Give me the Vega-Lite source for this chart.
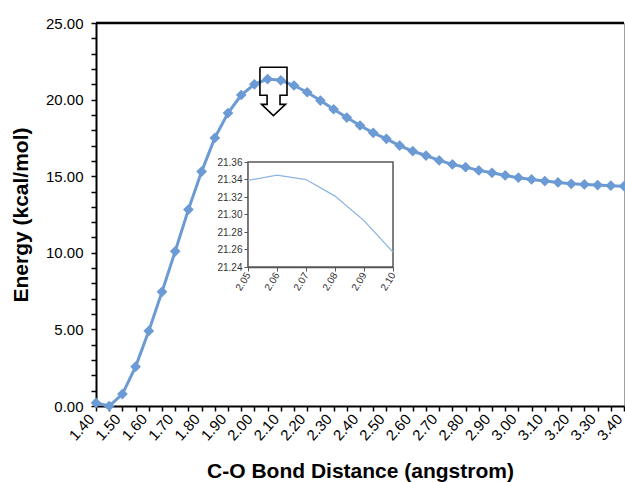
{
  "$schema": "https://vega.github.io/schema/vega-lite/v6.json",
  "width": 528,
  "height": 383,
  "autosize": {"type": "none"},
  "padding": {"left": 96, "top": 23, "right": 1, "bottom": 76},
  "background": "white",
  "config": {
    "view": {"stroke": "#a0a0a0", "strokeWidth": 1},
    "font": "Liberation Sans",
    "axis": {"labelFont": "Liberation Sans", "titleFont": "Liberation Sans", "grid": false}
  },
  "datasets": {
    "main": [
      {"distance": 1.40, "energy": 0.2},
      {"distance": 1.45, "energy": 0.0},
      {"distance": 1.50, "energy": 0.78},
      {"distance": 1.55, "energy": 2.57},
      {"distance": 1.60, "energy": 4.9},
      {"distance": 1.65, "energy": 7.45},
      {"distance": 1.70, "energy": 10.1},
      {"distance": 1.75, "energy": 12.82},
      {"distance": 1.80, "energy": 15.3},
      {"distance": 1.85, "energy": 17.5},
      {"distance": 1.90, "energy": 19.12},
      {"distance": 1.95, "energy": 20.3},
      {"distance": 2.00, "energy": 21.0},
      {"distance": 2.05, "energy": 21.34},
      {"distance": 2.10, "energy": 21.26},
      {"distance": 2.15, "energy": 20.92},
      {"distance": 2.20, "energy": 20.48},
      {"distance": 2.25, "energy": 19.94},
      {"distance": 2.30, "energy": 19.37},
      {"distance": 2.35, "energy": 18.83},
      {"distance": 2.40, "energy": 18.31},
      {"distance": 2.45, "energy": 17.83},
      {"distance": 2.50, "energy": 17.44},
      {"distance": 2.55, "energy": 17.0},
      {"distance": 2.60, "energy": 16.63},
      {"distance": 2.65, "energy": 16.35},
      {"distance": 2.70, "energy": 16.03},
      {"distance": 2.75, "energy": 15.77},
      {"distance": 2.80, "energy": 15.59},
      {"distance": 2.85, "energy": 15.38},
      {"distance": 2.90, "energy": 15.22},
      {"distance": 2.95, "energy": 15.05},
      {"distance": 3.00, "energy": 14.9},
      {"distance": 3.05, "energy": 14.79},
      {"distance": 3.10, "energy": 14.68},
      {"distance": 3.15, "energy": 14.59},
      {"distance": 3.20, "energy": 14.5},
      {"distance": 3.25, "energy": 14.46},
      {"distance": 3.30, "energy": 14.42},
      {"distance": 3.35, "energy": 14.38},
      {"distance": 3.40, "energy": 14.35}
    ],
    "inset": [
      {"distance": 2.05, "energy": 21.339},
      {"distance": 2.06, "energy": 21.345},
      {"distance": 2.07, "energy": 21.340},
      {"distance": 2.08, "energy": 21.321},
      {"distance": 2.09, "energy": 21.293},
      {"distance": 2.10, "energy": 21.257}
    ],
    "arrow": [
      {"i": 0, "x": 2.021, "y": 22.11},
      {"i": 1, "x": 2.1235, "y": 22.11},
      {"i": 2, "x": 2.1235, "y": 20.28},
      {"i": 3, "x": 2.097, "y": 20.28},
      {"i": 4, "x": 2.097, "y": 19.69},
      {"i": 5, "x": 2.118, "y": 19.69},
      {"i": 6, "x": 2.072, "y": 18.95},
      {"i": 7, "x": 2.027, "y": 19.69},
      {"i": 8, "x": 2.048, "y": 19.69},
      {"i": 9, "x": 2.048, "y": 20.28},
      {"i": 10, "x": 2.021, "y": 20.28},
      {"i": 11, "x": 2.021, "y": 22.11}
    ]
  },
  "layer": [
    {
      "encoding": {
        "x": {
          "type": "quantitative",
          "scale": {"domain": [1.4, 3.4], "nice": false, "zero": false},
          "axis": {
            "orient": "bottom",
            "values": [1.40, 1.45, 1.50, 1.55, 1.60, 1.65, 1.70, 1.75, 1.80, 1.85, 1.90, 1.95, 2.00, 2.05, 2.10, 2.15, 2.20, 2.25, 2.30, 2.35, 2.40, 2.45, 2.50, 2.55, 2.60, 2.65, 2.70, 2.75, 2.80, 2.85, 2.90, 2.95, 3.00, 3.05, 3.10, 3.15, 3.20, 3.25, 3.30, 3.35, 3.40],
            "labelExpr": "round(datum.value*100) % 10 == 0 ? format(datum.value, '.2f') : ''",
            "labelAngle": -48,
            "labelFontSize": 15,
            "labelColor": "black",
            "labelOverlap": false,
            "labelFlush": false,
            "labelPadding": 5,
            "labelOffset": -5,
            "domainColor": "black",
            "domainWidth": 2,
            "tickColor": "black",
            "tickWidth": 1.5,
            "tickSize": 5,
            "title": "C-O Bond Distance (angstrom)",
            "titleFontSize": 21,
            "titleFontWeight": "bold",
            "titleColor": "black",
            "titlePadding": 17
          }
        },
        "y": {
          "type": "quantitative",
          "scale": {"domain": [0, 25], "nice": false, "zero": false},
          "axis": {
            "orient": "left",
            "values": [0, 1, 2, 3, 4, 5, 6, 7, 8, 9, 10, 11, 12, 13, 14, 15, 16, 17, 18, 19, 20, 21, 22, 23, 24, 25],
            "labelExpr": "datum.value % 5 == 0 ? format(datum.value, '.2f') : ''",
            "labelFontSize": 15,
            "labelColor": "black",
            "labelOverlap": false,
            "labelFlush": false,
            "labelPadding": 8,
            "domainColor": "black",
            "domainWidth": 2,
            "tickColor": "black",
            "tickWidth": 1.5,
            "tickSize": 5,
            "title": "Energy (kcal/mol)",
            "titleFontSize": 21,
            "titleFontWeight": "bold",
            "titleColor": "black",
            "titlePadding": 14
          }
        }
      },
      "layer": [
        {
          "data": {"name": "main"},
          "mark": {"type": "line", "color": "#6b9ad4", "strokeWidth": 3},
          "encoding": {
            "x": {"field": "distance", "type": "quantitative"},
            "y": {"field": "energy", "type": "quantitative"}
          }
        },
        {
          "data": {"name": "main"},
          "mark": {"type": "point", "shape": "diamond", "filled": true, "size": 115, "color": "#6b9ad4", "opacity": 1},
          "encoding": {
            "x": {"field": "distance", "type": "quantitative"},
            "y": {"field": "energy", "type": "quantitative"}
          }
        },
        {
          "data": {"name": "arrow"},
          "mark": {"type": "line", "color": "black", "strokeWidth": 1.6},
          "encoding": {
            "x": {"field": "x", "type": "quantitative"},
            "y": {"field": "y", "type": "quantitative"},
            "order": {"field": "i", "type": "quantitative"}
          }
        },
        {
          "data": {"values": [{}]},
          "mark": {"type": "rule", "color": "black", "strokeWidth": 2.5},
          "encoding": {"y": {"datum": 25, "type": "quantitative"}}
        }
      ]
    },
    {
      "encoding": {
        "x": {
          "type": "quantitative",
          "scale": {"domain": [2.05, 2.10], "range": [152, 297], "nice": false, "zero": false},
          "axis": {
            "orient": "bottom",
            "offset": -139,
            "values": [2.05, 2.06, 2.07, 2.08, 2.09, 2.10],
            "format": ".2f",
            "labelAngle": -58,
            "labelFontSize": 10,
            "labelColor": "#333333",
            "labelOverlap": false,
            "labelFlush": false,
            "labelPadding": 2,
            "domainColor": "#555555",
            "domainWidth": 1.5,
            "tickColor": "#555555",
            "tickSize": 4,
            "title": null
          }
        },
        "y": {
          "type": "quantitative",
          "scale": {"domain": [21.24, 21.36], "range": [244, 139], "nice": false, "zero": false},
          "axis": {
            "orient": "left",
            "offset": -152,
            "values": [21.24, 21.26, 21.28, 21.30, 21.32, 21.34, 21.36],
            "format": ".2f",
            "labelFontSize": 10,
            "labelColor": "#333333",
            "labelOverlap": false,
            "labelFlush": false,
            "labelPadding": 2,
            "domainColor": "#555555",
            "domainWidth": 1.5,
            "tickColor": "#555555",
            "tickSize": 4,
            "title": null
          }
        }
      },
      "layer": [
        {
          "data": {"values": [{}]},
          "mark": {"type": "rect", "fill": "white", "stroke": "#555555", "strokeWidth": 1.5},
          "encoding": {
            "x": {"datum": 2.05, "type": "quantitative"},
            "x2": {"datum": 2.10},
            "y": {"datum": 21.24, "type": "quantitative"},
            "y2": {"datum": 21.36}
          }
        },
        {
          "data": {"name": "inset"},
          "mark": {"type": "line", "color": "#8db4e2", "strokeWidth": 1.3},
          "encoding": {
            "x": {"field": "distance", "type": "quantitative"},
            "y": {"field": "energy", "type": "quantitative"}
          }
        }
      ]
    }
  ],
  "resolve": {
    "scale": {"x": "independent", "y": "independent"},
    "axis": {"x": "independent", "y": "independent"}
  }
}
